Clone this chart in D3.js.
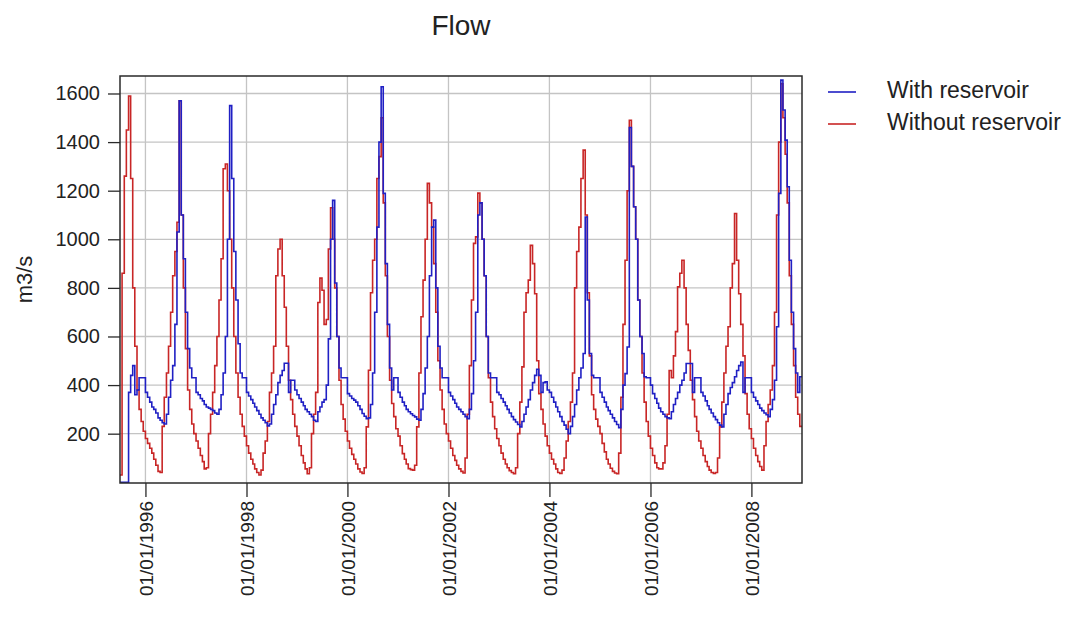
<!DOCTYPE html>
<html>
<head>
<meta charset="utf-8">
<script src="https://cdn.jsdelivr.net/npm/d3@7"></script>
<style>
  body { margin: 0; background: #fff; }
  text { font-family: "Liberation Sans", Arial, sans-serif; fill: #222; }
</style>
</head>
<body>
<div id="main"></div>
<script>
// half-monthly flows (m3/s): values for the 1st and the 16th of each month, from July 1995
var firstMonth = Date.UTC(1995, 6, 1);
var seriesNames = ["With reservoir", "Without reservoir"];
var seriesColors = ["#2020c4", "#c82626"];
var xTickYears = [1996, 1998, 2000, 2002, 2004, 2006, 2008];
var yTicks = [200, 400, 600, 800, 1000, 1200, 1400, 1600];

var withReservoir = [
    0, 0, 0, 0, 370, 440, 480, 360, 380, 430, 430, 430,
    370, 350, 330, 310, 300, 285, 265, 255, 245, 240, 280, 350, 420, 480, 650, 1030, 1570, 1100, 920, 700, 550, 470, 430, 430,
    370, 360, 345, 335, 320, 310, 305, 300, 295, 285, 280, 300, 360, 450, 600, 1000, 1550, 1250, 950, 750, 570, 450, 430, 430,
    370, 355, 340, 325, 310, 295, 280, 265, 255, 245, 232, 240, 280, 320, 360, 410, 440, 460, 490, 490, 370, 420, 420, 380,
    360, 345, 330, 315, 300, 290, 280, 270, 255, 250, 290, 310, 330, 340, 400, 590, 1000, 1160, 820, 600, 470, 430, 430, 430,
    365, 355, 345, 338, 330, 315, 300, 283, 272, 262, 265, 320, 450, 700, 1050, 1400, 1628, 1189, 900, 650, 470, 380, 430, 430,
    370, 350, 330, 315, 300, 290, 282, 275, 269, 260, 255, 300, 365, 470, 600, 850, 1050, 1079, 800, 560, 470, 430, 430, 430,
    370, 355, 340, 325, 310, 300, 290, 280, 270, 262, 300, 365, 500, 700, 1100, 1150, 1000, 850, 600, 450, 430, 430, 430, 370,
    360, 345, 330, 315, 300, 285, 270, 258, 248, 238, 228, 250, 280, 310, 340, 380, 410, 440, 465, 440, 370, 410, 413, 380,
    370, 350, 330, 310, 290, 270, 250, 235, 218, 200, 230, 270, 320, 380, 430, 470, 530, 1092, 750, 530, 440, 430, 430, 430,
    370, 350, 330, 310, 295, 280, 265, 250, 238, 225, 300, 400, 447, 557, 1460, 1300, 1134, 1000, 750, 600, 530, 434, 430, 430,
    400, 365, 345, 325, 305, 290, 280, 270, 265, 262, 290, 320, 345, 370, 400, 420, 450, 489, 489, 489, 370, 430, 430, 430,
    370, 355, 335, 315, 300, 285, 270, 258, 245, 235, 228, 280, 320, 365, 390, 410, 434, 460, 480, 495, 370, 430, 430, 430,
    370, 350, 335, 320, 305, 295, 285, 278, 270, 300, 340, 420, 640, 1189, 1655, 1532, 1408, 1216, 914, 700, 550, 450, 370, 434
];

var withoutReservoir = [
    30, 860, 1260, 1450, 1590, 1250, 800, 560, 380, 300, 250, 210,
    180, 160, 140, 120, 95, 70, 45, 40, 230, 350, 450, 560, 700, 850, 950, 1070, 1570, 1100, 800, 550, 380, 300, 240, 200,
    170, 140, 110, 85, 55, 60, 200, 280, 370, 480, 600, 750, 920, 1290, 1310, 1200, 1000, 800, 600, 450, 350, 280, 230, 190,
    150, 120, 95, 75, 55, 40, 30, 50, 120, 170, 250, 370, 450, 560, 850, 960, 1000, 850, 720, 560, 420, 340, 280, 230,
    190, 150, 110, 80, 55, 35, 60, 200, 280, 370, 740, 840, 790, 650, 670, 960, 1130, 1000, 800, 600, 420, 320, 260, 210,
    170, 140, 115, 95, 75, 55, 42, 36, 60, 228, 461, 780, 914, 1000, 1250, 1340, 1500, 1150, 850, 600, 420, 324, 270, 220,
    190, 150, 118, 95, 75, 56, 52, 50, 70, 228, 450, 681, 832, 1000, 1230, 1150, 1050, 900, 700, 500, 380, 300, 240, 200,
    170, 140, 110, 90, 70, 55, 45, 38, 100, 280, 480, 750, 983, 1010, 1190, 1150, 1000, 850, 600, 430, 330, 270, 220, 180,
    150, 120, 95, 75, 60, 48, 40, 35, 60, 200, 330, 475, 700, 780, 832, 975, 900, 776, 500, 365, 300, 240, 190, 150,
    120, 95, 75, 55, 40, 36, 50, 100, 170, 250, 330, 450, 800, 950, 1050, 1250, 1367, 1100, 780, 520, 360, 300, 260, 230,
    200, 160, 125, 95, 75, 58, 45, 38, 35, 120, 350, 650, 914, 1200, 1490, 1300, 1134, 1000, 750, 600, 450, 330, 250, 190,
    140, 110, 80, 60, 55, 55, 80, 150, 280, 460, 430, 520, 620, 804, 860, 914, 800, 650, 543, 420, 340, 270, 210, 170,
    140, 110, 85, 65, 50, 40, 36, 40, 100, 228, 330, 450, 560, 640, 800, 900, 1106, 914, 776, 650, 520, 365, 280, 220,
    180, 140, 110, 85, 65, 50, 150, 250, 320, 380, 480, 700, 1100, 1400, 1640, 1500, 1350, 1150, 850, 650, 480, 350, 280, 230
];

var outerWidth = 1076, outerHeight = 619;
var marginTop = 76, marginRight = 274, marginBottom = 136, marginLeft = 120;
var innerWidth = outerWidth - marginLeft - marginRight;
var innerHeight = outerHeight - marginTop - marginBottom;

var xStart = new Date(firstMonth);
var xEnd = new Date(Date.UTC(2009, 0, 1));

var xScale = d3.scaleUtc().domain([xStart, xEnd]).range([0, innerWidth]);
var yScale = d3.scaleLinear().domain([-3, 1672]).range([innerHeight, 0]);

function toPoints(values) {
    var pts = values.map((v, i) => {
        var m = d3.utcMonth.offset(xStart, Math.floor(i / 2));
        return { date: i % 2 ? d3.utcDay.offset(m, 15) : m, value: v };
    });
    pts.push({ date: xEnd, value: values[values.length - 1] });
    return pts;
}

var svg = d3.select("#main")
    .append("svg")
    .attr("width", outerWidth)
    .attr("height", outerHeight);

var g = svg.append("g")
    .attr("transform", "translate(" + marginLeft + "," + marginTop + ")");

svg.append("defs").append("clipPath").attr("id", "plotClip")
    .append("rect").attr("width", innerWidth).attr("height", innerHeight);

// grid
var xTickDates = xTickYears.map(y => new Date(Date.UTC(y, 0, 1)));

g.append("g")
    .selectAll("line")
    .data(xTickDates)
    .enter().append("line")
    .attr("x1", d => xScale(d)).attr("x2", d => xScale(d))
    .attr("y1", 0).attr("y2", innerHeight)
    .attr("stroke", "#c4c4c4").attr("stroke-width", 1.3);

g.append("g")
    .selectAll("line")
    .data(yTicks)
    .enter().append("line")
    .attr("x1", 0).attr("x2", innerWidth)
    .attr("y1", d => yScale(d)).attr("y2", d => yScale(d))
    .attr("stroke", "#c4c4c4").attr("stroke-width", 1.3);

// series, red drawn first so blue sits on top
var line = d3.line()
    .x(d => xScale(d.date))
    .y(d => yScale(d.value))
    .curve(d3.curveStepAfter);

var lines = g.append("g").attr("clip-path", "url(#plotClip)");
[withoutReservoir, withReservoir].forEach((vals, k) => {
    lines.append("path")
        .datum(toPoints(vals))
        .attr("fill", "none")
        .attr("stroke", k == 0 ? seriesColors[1] : seriesColors[0])
        .attr("stroke-width", 1.6)
        .attr("d", line);
});

// border
g.append("rect")
    .attr("width", innerWidth).attr("height", innerHeight)
    .attr("fill", "none").attr("stroke", "#2a2a2a").attr("stroke-width", 1.5);

// axes
var yAxis = d3.axisLeft(yScale).tickValues(yTicks).tickSize(12).tickPadding(8)
    .tickFormat(d3.format("d"));
var yAxisG = g.append("g").call(yAxis);
yAxisG.select(".domain").remove();
yAxisG.selectAll("line").attr("stroke", "#2a2a2a").attr("stroke-width", 1.3);
yAxisG.selectAll("text").attr("font-size", 20).attr("fill", "#222")
    .attr("font-family", "Liberation Sans, Arial, sans-serif");

var xAxis = d3.axisBottom(xScale).tickValues(xTickDates).tickSize(14)
    .tickFormat(d3.utcFormat("%d/%m/%Y"));
var xAxisG = g.append("g").attr("transform", "translate(0," + innerHeight + ")").call(xAxis);
xAxisG.select(".domain").remove();
xAxisG.selectAll("line").attr("stroke", "#2a2a2a").attr("stroke-width", 1.3);
xAxisG.selectAll("text")
    .attr("font-size", 19).attr("fill", "#222")
    .attr("font-family", "Liberation Sans, Arial, sans-serif")
    .attr("text-anchor", "end")
    .attr("transform", "rotate(-90)")
    .attr("x", -18).attr("y", 0).attr("dy", "0.36em");

// title and axis label
svg.append("text")
    .attr("x", marginLeft + innerWidth / 2).attr("y", 35)
    .attr("text-anchor", "middle").attr("font-size", 28)
    .text("Flow");

svg.append("text")
    .attr("transform", "translate(32," + (marginTop + innerHeight / 2) + ") rotate(-90)")
    .attr("text-anchor", "middle").attr("font-size", 22)
    .text("m3/s");

// legend
var legend = svg.append("g").attr("transform", "translate(828,92)");
seriesNames.forEach((name, i) => {
    legend.append("line")
        .attr("x1", 0).attr("x2", 28)
        .attr("y1", i * 32).attr("y2", i * 32)
        .attr("stroke", seriesColors[i]).attr("stroke-width", 1.6);
    legend.append("text")
        .attr("x", 59).attr("y", i * 32 + 6)
        .attr("font-size", 23)
        .text(name);
});
</script>
</body>
</html>
